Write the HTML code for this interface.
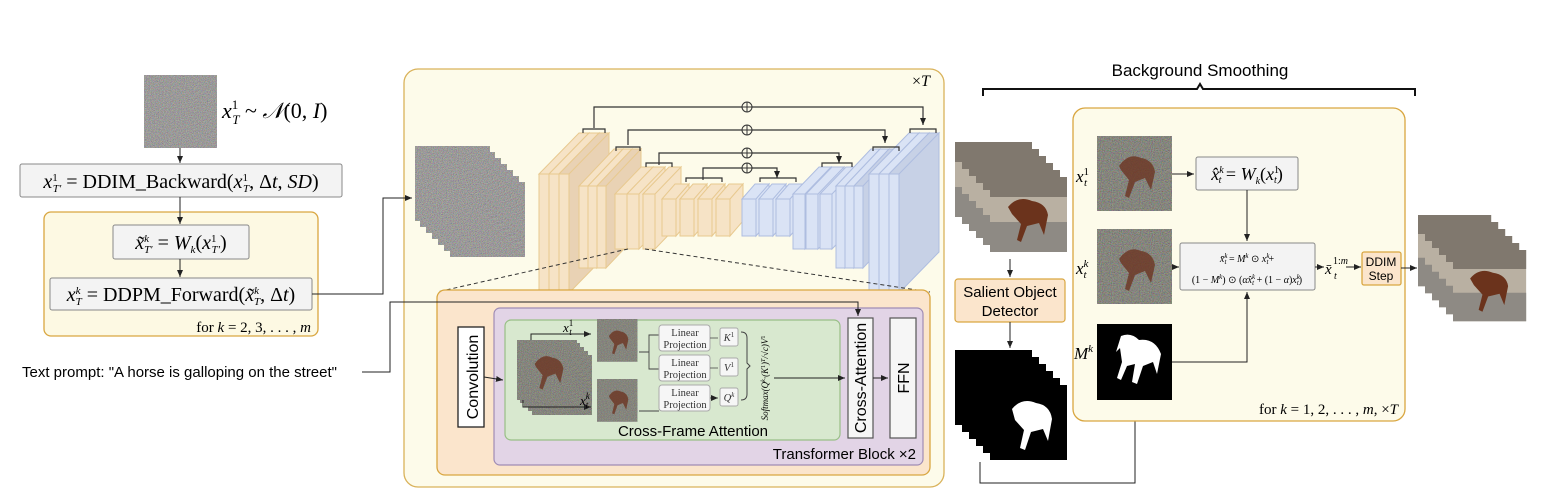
<!DOCTYPE html>
<html><head><meta charset="utf-8"><style>
html,body{margin:0;padding:0;background:#fff}
svg{display:block}
.m{font-family:"Liberation Serif",serif}
.s{font-family:"Liberation Sans",sans-serif}
</style></head><body>
<svg width="1560" height="503" viewBox="0 0 1560 503" xmlns="http://www.w3.org/2000/svg">
<defs>
<filter id="nz" x="0" y="0" width="100%" height="100%">
<feTurbulence type="fractalNoise" baseFrequency="0.9" numOctaves="1" seed="3"/>
<feColorMatrix type="matrix" values="1.4 0 0 0 -0.2  0 1.4 0 0 -0.2  0 0 1.4 0 -0.2  0 0 0 0 1"/>
</filter>
<marker id="ar" markerWidth="8" markerHeight="8" refX="7" refY="4" orient="auto" markerUnits="userSpaceOnUse"><path d="M0,1 L7,4 L0,7 z" fill="#222"/></marker>
<g id="noise"><rect width="100" height="100" fill="#6d6a68"/><rect width="100" height="100" filter="url(#nz)" opacity="0.6"/></g>
<g id="hn"><rect width="75" height="75" fill="#5a5a4c"/><rect width="75" height="75" filter="url(#nz)" opacity="0.45"/><path d="M22,30 q10,-14 22,-8 q12,2 14,14 l-4,18 -6,-12 -10,4 -6,16 -4,-2 4,-16 -8,-10z" fill="#6b3522" opacity="0.8"/></g>
<g id="st"><rect width="77" height="75" fill="#b9b0a2"/><rect width="77" height="30" y="45" fill="#8e8a84"/><rect width="77" height="20" fill="#80786e"/><path d="M18,30 q10,-12 24,-6 q14,2 16,14 l-4,20 -5,-12 -12,3 -6,16 -4,-2 4,-16 -9,-10z" fill="#6b331c"/></g>
<g id="mk"><rect width="77" height="75" fill="#000"/><path d="M22,24 q10,-12 24,-6 q14,2 16,16 l-4,22 -5,-12 -12,3 -6,18 -5,-2 4,-18 -9,-10z" fill="#fff"/></g>
</defs>

<!-- LEFT -->
<use href="#noise" transform="translate(144 75) scale(0.73)"/>
<text x="222" y="118" class="m" font-size="22" font-style="italic">x<tspan font-size="13" dy="-9" font-style="normal">1</tspan><tspan font-size="13" dx="-6" dy="15">T</tspan><tspan dy="-6" font-style="normal"> ~ </tspan>𝒩<tspan font-style="normal">(0, </tspan>I<tspan font-style="normal">)</tspan></text>
<line x1="180" y1="148" x2="180" y2="163" stroke="#222" marker-end="url(#ar)"/>
<rect x="20" y="164" width="322" height="33" fill="#f3f3f3" stroke="#888" rx="2"/>
<text x="181" y="188" class="m" font-size="20" text-anchor="middle"><tspan font-style="italic">x</tspan><tspan font-size="11" dy="-7">1</tspan><tspan font-size="11" dx="-5" dy="11" font-style="italic">T′</tspan><tspan dy="-4"> = DDIM_Backward(</tspan><tspan font-style="italic">x</tspan><tspan font-size="11" dy="-7">1</tspan><tspan font-size="11" dx="-5" dy="11" font-style="italic">T</tspan><tspan dy="-4">, Δ</tspan><tspan font-style="italic">t</tspan>, <tspan font-style="italic">SD</tspan>)</text>
<rect x="44" y="212" width="274" height="124" rx="7" fill="#fdf9e3" stroke="#d9a640" stroke-width="1.3"/>
<line x1="180" y1="197" x2="180" y2="224" stroke="#222" marker-end="url(#ar)"/>
<rect x="113" y="225" width="136" height="34" fill="#f3f3f3" stroke="#888" rx="2"/>
<text x="181" y="249" class="m" font-size="20" text-anchor="middle"><tspan font-style="italic">x̃</tspan><tspan font-size="11" dy="-7" font-style="italic">k</tspan><tspan font-size="11" dx="-5" dy="11" font-style="italic">T′</tspan><tspan dy="-4"> = </tspan><tspan font-style="italic">W</tspan><tspan font-size="11" dy="4" font-style="italic">k</tspan><tspan dy="-4">(</tspan><tspan font-style="italic">x</tspan><tspan font-size="11" dy="-7">1</tspan><tspan font-size="11" dx="-5" dy="11" font-style="italic">T′</tspan><tspan dy="-4">)</tspan></text>
<line x1="180" y1="259" x2="180" y2="277" stroke="#222" marker-end="url(#ar)"/>
<rect x="50" y="278" width="262" height="32" fill="#f3f3f3" stroke="#888" rx="2"/>
<text x="181" y="301" class="m" font-size="20" text-anchor="middle"><tspan font-style="italic">x</tspan><tspan font-size="11" dy="-7" font-style="italic">k</tspan><tspan font-size="11" dx="-5" dy="11" font-style="italic">T</tspan><tspan dy="-4"> = DDPM_Forward(</tspan><tspan font-style="italic">x̃</tspan><tspan font-size="11" dy="-7" font-style="italic">k</tspan><tspan font-size="11" dx="-5" dy="11" font-style="italic">T</tspan><tspan dy="-4">, Δ</tspan><tspan font-style="italic">t</tspan>)</text>
<text x="311" y="332" class="m" font-size="15" text-anchor="end">for <tspan font-style="italic">k</tspan> = 2, 3, . . . , <tspan font-style="italic">m</tspan></text>
<text x="22" y="377" class="s" font-size="15">Text prompt: "A horse is galloping on the street"</text>

<!-- UNet box -->
<rect x="404" y="69" width="540" height="418" rx="14" fill="#fdfbea" stroke="#d9b25a" stroke-width="1.3"/>
<text x="912" y="86" class="m" font-size="16">×<tspan font-style="italic">T</tspan></text>
<g>
<use href="#noise" transform="translate(450 182) scale(0.75)"/>
<use href="#noise" transform="translate(444 176) scale(0.75)"/>
<use href="#noise" transform="translate(438 170) scale(0.75)"/>
<use href="#noise" transform="translate(432 164) scale(0.75)"/>
<use href="#noise" transform="translate(426 158) scale(0.75)"/>
<use href="#noise" transform="translate(420 152) scale(0.75)"/>
<use href="#noise" transform="translate(415 146) scale(0.75)"/>
</g>
<polyline points="312,294 383,294 383,198 412,198" fill="none" stroke="#222" marker-end="url(#ar)"/>

<g stroke-width="1">
<g fill="#f6e3c6" stroke="#e8c98f">
<path d="M539,174 l40,-41 h10 l-40,41z M549,174 l40,-41 v119 l-40,41z"/><rect x="539" y="174" width="10" height="119"/>
<path d="M549,174 l40,-41 h10 l-40,41z M559,174 l40,-41 v119 l-40,41z"/><rect x="549" y="174" width="10" height="119"/>
<path d="M559,174 l40,-41 h10 l-40,41z M569,174 l40,-41 v119 l-40,41z" fill="#e9d2b4"/><rect x="559" y="174" width="10" height="119"/>
<path d="M579,186 l35,-37 h9 l-35,37z M588,186 l35,-37 v82 l-35,37z"/><rect x="579" y="186" width="9" height="82"/>
<path d="M588,186 l35,-37 h9 l-35,37z M597,186 l35,-37 v82 l-35,37z"/><rect x="588" y="186" width="9" height="82"/>
<path d="M597,186 l35,-37 h9 l-35,37z M606,186 l35,-37 v82 l-35,37z" fill="#e9d2b4"/><rect x="597" y="186" width="9" height="82"/>
<path d="M615,194 l26,-27 h12 l-26,27z M627,194 l26,-27 v55 l-26,27z"/><rect x="615" y="194" width="12" height="55"/>
<path d="M627,194 l26,-27 h12 l-26,27z M639,194 l26,-27 v55 l-26,27z"/><rect x="627" y="194" width="12" height="55"/>
<path d="M643,194 l26,-27 h12 l-26,27z M655,194 l26,-27 v55 l-26,27z"/><rect x="643" y="194" width="12" height="55"/>
<path d="M662,199 l13,-15 h14 l-13,15z M676,199 l13,-15 v37 l-13,15z"/><rect x="662" y="199" width="14" height="37"/>
<path d="M680,199 l13,-15 h14 l-13,15z M694,199 l13,-15 v37 l-13,15z"/><rect x="680" y="199" width="14" height="37"/>
<path d="M698,199 l13,-15 h14 l-13,15z M712,199 l13,-15 v37 l-13,15z"/><rect x="698" y="199" width="14" height="37"/>
<path d="M716,199 l13,-15 h14 l-13,15z M730,199 l13,-15 v37 l-13,15z"/><rect x="716" y="199" width="14" height="37"/>
</g>
<g fill="#dae3f5" stroke="#aebde0">
<path d="M742,199 l13,-15 h14 l-13,15z M756,199 l13,-15 v37 l-13,15z"/><rect x="742" y="199" width="14" height="37"/>
<path d="M759,199 l13,-15 h14 l-13,15z M773,199 l13,-15 v37 l-13,15z"/><rect x="759" y="199" width="14" height="37"/>
<path d="M776,199 l13,-15 h14 l-13,15z M790,199 l13,-15 v37 l-13,15z"/><rect x="776" y="199" width="14" height="37"/>
<path d="M793,194 l26,-27 h12 l-26,27z M805,194 l26,-27 v55 l-26,27z"/><rect x="793" y="194" width="12" height="55"/>
<path d="M806,194 l26,-27 h12 l-26,27z M818,194 l26,-27 v55 l-26,27z"/><rect x="806" y="194" width="12" height="55"/>
<path d="M820,194 l26,-27 h12 l-26,27z M832,194 l26,-27 v55 l-26,27z"/><rect x="820" y="194" width="12" height="55"/>
<path d="M836,186 l35,-37 h9 l-35,37z M845,186 l35,-37 v82 l-35,37z"/><rect x="836" y="186" width="9" height="82"/>
<path d="M845,186 l35,-37 h9 l-35,37z M854,186 l35,-37 v82 l-35,37z"/><rect x="845" y="186" width="9" height="82"/>
<path d="M854,186 l35,-37 h9 l-35,37z M863,186 l35,-37 v82 l-35,37z" fill="#c7d1e6"/><rect x="854" y="186" width="9" height="82"/>
<path d="M869,174 l40,-41 h10 l-40,41z M879,174 l40,-41 v119 l-40,41z"/><rect x="869" y="174" width="10" height="119"/>
<path d="M879,174 l40,-41 h10 l-40,41z M889,174 l40,-41 v119 l-40,41z"/><rect x="879" y="174" width="10" height="119"/>
<path d="M889,174 l40,-41 h10 l-40,41z M899,174 l40,-41 v119 l-40,41z" fill="#c7d1e6"/><rect x="889" y="174" width="10" height="119"/>
</g>
</g>
<g fill="none" stroke="#333" stroke-width="1.2">
<polyline points="594,128 594,107 923,107 923,125" marker-end="url(#ar)"/>
<polyline points="628,145 628,130 885,130 885,143" marker-end="url(#ar)"/>
<polyline points="659,165 659,153 839,153 839,163" marker-end="url(#ar)"/>
<polyline points="703,180 703,168 777,168 777,178" marker-end="url(#ar)"/>
<path d="M583,133 v-4 h22 v4 M616,151 v-4 h24 v4 M646,167 v-4 h26 v4 M686,182 v-4 h36 v4 M760,182 v-4 h36 v4 M822,167 v-4 h30 v4 M873,151 v-4 h26 v4 M910,133 v-4 h26 v4"/>
</g>
<g fill="#fdfbea" stroke="#333" stroke-width="1">
<circle cx="747" cy="107" r="5"/><circle cx="747" cy="130" r="5"/><circle cx="747" cy="153" r="5"/><circle cx="747" cy="168" r="5"/>
<path d="M742,107h10M747,102v10M742,130h10M747,125v10M742,153h10M747,148v10M742,168h10M747,163v10"/>
</g>
<path d="M628,249 L437,292 M645,249 L930,292" stroke="#333" stroke-dasharray="4,3" fill="none"/>

<!-- transformer -->
<rect x="437" y="290" width="493" height="185" rx="8" fill="#fbe5cc" stroke="#d9a640" stroke-width="1.3"/>
<rect x="494" y="308" width="429" height="157" rx="6" fill="#e2d4e6" stroke="#9f8cb5" stroke-width="1.2"/>
<rect x="505" y="320" width="335" height="120" rx="6" fill="#d8e8cf" stroke="#98bf86" stroke-width="1.2"/>
<rect x="458" y="327" width="26" height="100" fill="#fff" stroke="#222" stroke-width="1.3"/>
<text transform="translate(478 377) rotate(-90)" class="s" font-size="16" text-anchor="middle">Convolution</text>
<line x1="484" y1="377" x2="503" y2="380" stroke="#222" marker-end="url(#ar)"/>
<g>
<use href="#hn" transform="translate(532 355) scale(0.8)"/>
<use href="#hn" transform="translate(528 351) scale(0.8)"/>
<use href="#hn" transform="translate(524 347) scale(0.8)"/>
<use href="#hn" transform="translate(520 343) scale(0.8)"/>
<use href="#hn" transform="translate(517 340) scale(0.8)"/>
</g>
<path d="M531,340 v-6 h60" fill="none" stroke="#222" marker-end="url(#ar)"/>
<path d="M523,400 v7 h68" fill="none" stroke="#222" marker-end="url(#ar)"/>
<text x="563" y="332" class="m" font-size="13" font-style="italic">x<tspan font-size="9" dy="-6" font-style="normal">1</tspan><tspan font-size="9" dx="-4" dy="9">t</tspan></text>
<text x="580" y="405" class="m" font-size="13" font-style="italic">x<tspan font-size="9" dy="-6">k</tspan><tspan font-size="9" dx="-4" dy="9">t</tspan></text>
<use href="#hn" transform="translate(597 319) scale(0.54 0.57)"/>
<use href="#hn" transform="translate(597 379) scale(0.54 0.57)"/>
<path d="M639,352 h10 v-17 h10 M649,352 v17 h10 M639,411 h20" fill="none" stroke="#444" stroke-width="0.9"/>
<g fill="#f6f6f6" stroke="#aaa">
<rect x="659" y="325" width="51" height="26" rx="3"/><rect x="659" y="355" width="51" height="26" rx="3"/><rect x="659" y="385" width="51" height="26" rx="3"/>
<rect x="720" y="328" width="18" height="18" rx="2"/><rect x="720" y="358" width="18" height="18" rx="2"/><rect x="720" y="388" width="18" height="18" rx="2"/>
</g>
<g class="m" font-size="10.5" fill="#333" text-anchor="middle">
<text x="685" y="336">Linear</text><text x="685" y="348">Projection</text>
<text x="685" y="366">Linear</text><text x="685" y="378">Projection</text>
<text x="685" y="396">Linear</text><text x="685" y="408">Projection</text>
<text x="729" y="341" font-style="italic">K<tspan font-size="7" dy="-4" font-style="normal">1</tspan></text>
<text x="729" y="371" font-style="italic">V<tspan font-size="7" dy="-4" font-style="normal">1</tspan></text>
<text x="729" y="401" font-style="italic">Q<tspan font-size="7" dy="-4">k</tspan></text>
</g>
<path d="M710,338h8 M710,368h8 M710,398h8" stroke="#444" stroke-width="0.8" marker-end="url(#ar)"/>
<path d="M741,332 q6,0 6,6 v25 l3,3 -3,3 v25 q0,6 -6,6" fill="none" stroke="#444"/>
<text transform="translate(768 378) rotate(-90)" class="m" font-size="9" text-anchor="middle" font-style="italic">Softmax(Q<tspan font-size="6" dy="-3">k</tspan><tspan dy="3">·(K</tspan><tspan font-size="6" dy="-3" font-style="normal">1</tspan><tspan dy="3">)</tspan><tspan font-size="6" dy="-3">T</tspan><tspan dy="3">/√c)V</tspan><tspan font-size="6" dy="-3" font-style="normal">1</tspan></text>
<line x1="774" y1="378" x2="845" y2="378" stroke="#222" marker-end="url(#ar)"/>
<text x="693" y="436" class="s" font-size="15" text-anchor="middle">Cross-Frame Attention</text>
<rect x="848" y="318" width="25" height="120" fill="#f6f6f6" stroke="#555" stroke-width="1.2"/>
<text transform="translate(866 378) rotate(-90)" class="s" font-size="16" text-anchor="middle">Cross-Attention</text>
<line x1="873" y1="378" x2="888" y2="378" stroke="#222" marker-end="url(#ar)"/>
<rect x="890" y="318" width="26" height="120" fill="#f6f6f6" stroke="#555" stroke-width="1.2"/>
<text transform="translate(909 378) rotate(-90)" class="s" font-size="16" text-anchor="middle">FFN</text>
<text x="916" y="459" class="s" font-size="15" text-anchor="end">Transformer Block ×2</text>
<polyline points="362,372 390,372 390,302 858,302 858,316" fill="none" stroke="#222" marker-end="url(#ar)"/>

<!-- RIGHT -->
<text x="1200" y="76" class="s" font-size="17" text-anchor="middle">Background Smoothing</text>
<path d="M983,96 v-7 h214 l3,-5 3,5 h212 v7" fill="none" stroke="#111" stroke-width="2"/>
<g>
<use href="#st" x="955" y="142"/><use href="#st" x="962" y="149"/><use href="#st" x="969" y="156"/><use href="#st" x="976" y="163"/><use href="#st" x="983" y="170"/><use href="#st" x="990" y="177"/>
</g>
<line x1="1010" y1="259" x2="1010" y2="277" stroke="#222" marker-end="url(#ar)"/>
<rect x="955" y="279" width="110" height="43" rx="3" fill="#fbe5cc" stroke="#d9a640" stroke-width="1.2"/>
<text x="1010" y="297" class="s" font-size="15" text-anchor="middle">Salient Object</text>
<text x="1010" y="316" class="s" font-size="15" text-anchor="middle">Detector</text>
<line x1="1010" y1="322" x2="1010" y2="348" stroke="#222" marker-end="url(#ar)"/>
<g>
<use href="#mk" x="955" y="350"/><use href="#mk" x="962" y="357"/><use href="#mk" x="969" y="364"/><use href="#mk" x="976" y="371"/><use href="#mk" x="983" y="378"/><use href="#mk" x="990" y="385"/>
</g>
<polyline points="980,462 980,483 1135,483 1135,402" fill="none" stroke="#222" marker-end="url(#ar)"/>

<rect x="1073" y="108" width="332" height="313" rx="12" fill="#fdfbea" stroke="#d9a640" stroke-width="1.3"/>
<g transform="translate(1097 136)"><use href="#hn"/></g>
<g transform="translate(1097 229)"><use href="#hn"/></g>
<g transform="translate(1097 324)"><rect width="75" height="76" fill="#000"/><path d="M24,12 q10,-4 18,4 q16,-2 22,14 l-4,20 -4,-12 -10,4 -6,18 -5,-2 3,-18 -8,2 -6,14 -4,-2 5,-16 -2,-14 -4,4z" fill="#fff"/></g>
<text x="1076" y="182" class="m" font-size="17" font-style="italic">x<tspan font-size="11" dy="-7" font-style="normal">1</tspan><tspan font-size="11" dx="-5" dy="11">t</tspan></text>
<text x="1076" y="274" class="m" font-size="17" font-style="italic">x<tspan font-size="11" dy="-7">k</tspan><tspan font-size="11" dx="-5" dy="11">t</tspan></text>
<text x="1074" y="359" class="m" font-size="17" font-style="italic">M<tspan font-size="11" dy="-7">k</tspan></text>
<line x1="1172" y1="174" x2="1194" y2="174" stroke="#222" marker-end="url(#ar)"/>
<rect x="1196" y="157" width="102" height="33" rx="2" fill="#f3f3f3" stroke="#888"/>
<text x="1247" y="180" class="m" font-size="18" text-anchor="middle"><tspan font-style="italic">x̂</tspan><tspan font-size="10" dy="-7" font-style="italic">k</tspan><tspan font-size="10" dx="-5" dy="10" font-style="italic">t</tspan><tspan dy="-3"> = </tspan><tspan font-style="italic">W</tspan><tspan font-size="10" dy="4" font-style="italic">k</tspan><tspan dy="-4">(</tspan><tspan font-style="italic">x</tspan><tspan font-size="10" dy="-7">1</tspan><tspan font-size="10" dx="-5" dy="10" font-style="italic">t</tspan><tspan dy="-3">)</tspan></text>
<line x1="1247" y1="190" x2="1247" y2="241" stroke="#222" marker-end="url(#ar)"/>
<rect x="1180" y="243" width="135" height="47" rx="2" fill="#f3f3f3" stroke="#888"/>
<text x="1247" y="262" class="m" font-size="10" text-anchor="middle" font-style="italic">x̄<tspan font-size="7" dy="-4">k</tspan><tspan font-size="7" dx="-3" dy="6">t</tspan><tspan dy="-2" font-style="normal"> = </tspan>M<tspan font-size="7" dy="-4">k</tspan><tspan dy="4" font-style="normal"> ⊙ </tspan>x<tspan font-size="7" dy="-4">k</tspan><tspan font-size="7" dx="-3" dy="6">t</tspan><tspan dy="-2" font-style="normal">+</tspan></text>
<text x="1247" y="283" class="m" font-size="10" text-anchor="middle" font-style="italic"><tspan font-style="normal">(1 − </tspan>M<tspan font-size="7" dy="-4">k</tspan><tspan dy="4" font-style="normal">) ⊙ (</tspan>αx̂<tspan font-size="7" dy="-4">k</tspan><tspan font-size="7" dx="-3" dy="6">t</tspan><tspan dy="-2" font-style="normal"> + (1 − </tspan>α<tspan font-style="normal">)</tspan>x<tspan font-size="7" dy="-4">k</tspan><tspan font-size="7" dx="-3" dy="6">t</tspan><tspan dy="-2" font-style="normal">)</tspan></text>
<line x1="1172" y1="267" x2="1179" y2="267" stroke="#222" marker-end="url(#ar)"/>
<polyline points="1172,362 1247,362 1247,292" fill="none" stroke="#222" marker-end="url(#ar)"/>
<line x1="1315" y1="267" x2="1324" y2="267" stroke="#222" marker-end="url(#ar)"/>
<text x="1325" y="274" class="m" font-size="15" font-style="italic">x̄</text>
<text x="1333" y="264" class="m" font-size="10">1:<tspan font-style="italic">m</tspan></text>
<text x="1334" y="279" class="m" font-size="10" font-style="italic">t</text>
<line x1="1346" y1="267" x2="1361" y2="267" stroke="#222" marker-end="url(#ar)"/>
<rect x="1362" y="252" width="39" height="33" rx="2" fill="#fbe5cc" stroke="#d9a640" stroke-width="1.3"/>
<text x="1381" y="266" class="s" font-size="12" text-anchor="middle">DDIM</text>
<text x="1381" y="280" class="s" font-size="12" text-anchor="middle">Step</text>
<line x1="1401" y1="268" x2="1417" y2="268" stroke="#222" marker-end="url(#ar)"/>
<text x="1398" y="414" class="m" font-size="15" text-anchor="end">for <tspan font-style="italic">k</tspan> = 1, 2, . . . , <tspan font-style="italic">m</tspan>,  ×<tspan font-style="italic">T</tspan></text>
<g>
<use href="#st" transform="translate(1418 215) scale(0.95)"/><use href="#st" transform="translate(1425 222) scale(0.95)"/><use href="#st" transform="translate(1432 229) scale(0.95)"/><use href="#st" transform="translate(1439 236) scale(0.95)"/><use href="#st" transform="translate(1446 243) scale(0.95)"/><use href="#st" transform="translate(1453 250) scale(0.95)"/>
</g>
</svg>
</body></html>
